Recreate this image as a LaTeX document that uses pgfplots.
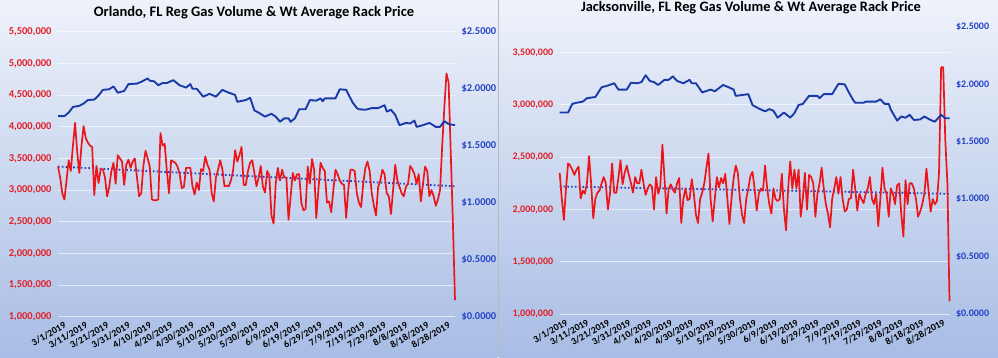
\documentclass[border=0pt]{standalone}
\usepackage{pgfplots}
\pgfplotsset{compat=1.18}
\usepackage{fontspec}
\setmainfont{Carlito}
\definecolor{bgtop}{RGB}{238,242,250}
\definecolor{bgbot}{RGB}{168,189,229}
\definecolor{redline}{RGB}{236,22,26}
\definecolor{redtext}{RGB}{226,30,38}
\definecolor{blueline}{RGB}{26,58,168}
\definecolor{bluetext}{RGB}{36,66,196}
\definecolor{trend}{RGB}{40,62,196}
\pgfplotsset{
  chart/.style={scale only axis, anchor=south west, xmin=0, xmax=186,
    axis line style={draw=none}, major tick style={draw=none}, minor tick style={draw=none},
    clip=false},
  datelabels/.style={xtick={0,10,...,180},
    xticklabels={3/1/2019,3/11/2019,3/21/2019,3/31/2019,4/10/2019,4/20/2019,4/30/2019,5/10/2019,5/20/2019,5/30/2019,6/9/2019,6/19/2019,6/29/2019,7/9/2019,7/19/2019,7/29/2019,8/8/2019,8/18/2019,8/28/2019},
    x tick label style={rotate=30, anchor=north east, font=\bfseries\fontsize{9.7}{11}\selectfont, text=black, inner sep=0.5pt, yshift=-6pt, xshift=3pt}},
  volline/.style={redline, line width=1.7pt, line join=round, no markers},
  priceline/.style={blueline, line width=1.9pt, line join=round, no markers},
  trendline/.style={trend, line width=1.8pt, dash pattern=on 1.6pt off 2.2pt, no markers},
}
\begin{document}
\begin{tikzpicture}[x=1pt,y=1pt]
\path[use as bounding box] (0,0) rectangle (998,357);
\shade[top color=bgtop, bottom color=bgbot] (0,0) rectangle (497.6,357);
\shade[top color=bgtop, bottom color=bgbot] (499,0) rectangle (998,357);
\draw[gray!55, line width=0.8pt] (498.3,0) -- (498.3,357);
\node[font=\bfseries\fontsize{14.5}{16}\selectfont] at (254,344.5) {Orlando, FL Reg Gas Volume \& Wt Average Rack Price};
\node[font=\bfseries\fontsize{14.4}{16}\selectfont] at (751,349.5) {Jacksonville, FL Reg Gas Volume \& Wt Average Rack Price};

% ---------------- Orlando: volume ----------------
\begin{axis}[chart, datelabels, at={(58pt,40.3pt)}, width=397pt, height=285pt,
  ymin=1000, ymax=5500, ytick={1000,1500,...,5500},
  yticklabels={{1,000,000},{1,500,000},{2,000,000},{2,500,000},{3,000,000},{3,500,000},{4,000,000},{4,500,000},{5,000,000},{5,500,000}},
  y tick label style={text=redtext, font=\bfseries\fontsize{10.5}{12}\selectfont, xshift=-3pt},
  ymajorgrids, grid style={white, opacity=0.6, line width=0.8pt}]
\addplot[trendline] coordinates {(0,3370) (186,3060)};
\addplot[volline] coordinates {
(0,3370)(1,3200)(2,2950)(3,2850)(4,3150)(5,3470)(6,3300)(7,3700)(8,4060)(9,3600)
(10,3270)(11,3700)(12,4010)(13,3820)(14,3750)(15,3700)(16,3680)(17,2920)(18,3380)(19,3110)
(20,3330)(21,3330)(22,3200)(23,2900)(24,3050)(25,3300)(26,3430)(27,3100)(28,3550)(29,3500)
(30,3450)(31,3080)(32,3400)(33,3480)(34,3350)(35,3450)(36,3500)(37,3200)(38,2900)(39,2950)
(40,3380)(41,3620)(42,3500)(43,3370)(44,2850)(45,2840)(46,2840)(47,2850)(48,3900)(49,3700)
(50,3730)(51,3300)(52,2950)(53,3470)(54,3450)(55,3430)(56,3370)(57,3250)(58,3030)(59,3050)
(60,3350)(61,3350)(62,3350)(63,3060)(64,2930)(65,3120)(66,3000)(67,3330)(68,3300)(69,3530)
(70,3400)(71,3320)(72,2950)(73,2820)(74,3200)(75,3320)(76,3470)(77,3330)(78,3060)(79,3070)
(80,3060)(81,3150)(82,3300)(83,3630)(84,3450)(85,3550)(86,3680)(87,3080)(88,3080)(89,3300)
(90,3430)(91,3470)(92,3270)(93,3060)(94,3200)(95,3380)(96,3050)(97,2960)(98,3300)(99,3230)
(100,2600)(101,2470)(102,3100)(103,3350)(104,3150)(105,3320)(106,3200)(107,3200)(108,2530)(109,2900)
(110,3270)(111,3150)(112,3250)(113,3250)(114,2800)(115,2680)(116,2700)(117,3370)(118,3100)(119,3490)
(120,3320)(121,2560)(122,3000)(123,3430)(124,3350)(125,3300)(126,2800)(127,2820)(128,2650)(129,3000)
(130,3320)(131,3250)(132,3150)(133,3100)(134,3080)(135,2560)(136,3000)(137,3320)(138,3320)(139,3300)
(140,2950)(141,2800)(142,2730)(143,3100)(144,3350)(145,3450)(146,3300)(147,2950)(148,2750)(149,2600)
(150,3050)(151,3150)(152,3320)(153,3250)(154,2950)(155,2900)(156,2620)(157,3000)(158,3400)(159,3150)
(160,3050)(161,2950)(162,2900)(163,3050)(164,3100)(165,3380)(166,3330)(167,3250)(168,3100)(169,3250)
(170,2820)(171,3100)(172,3370)(173,3300)(174,2900)(175,3000)(176,2900)(177,2750)(178,2850)(179,3000)
(180,3700)(181,4300)(182,4840)(183,4700)(184,3600)(185,2500)(186,1260)};
\end{axis}
% ---------------- Orlando: price ----------------
\begin{axis}[chart, at={(58pt,40.3pt)}, width=397pt, height=285pt,
  axis x line=none, axis y line*=right,
  ymin=0, ymax=2.5, ytick={0,0.5,...,2.5},
  yticklabels={\$0.0000,\$0.5000,\$1.0000,\$1.5000,\$2.0000,\$2.5000},
  y tick label style={text=bluetext, font=\bfseries\fontsize{10.5}{12}\selectfont, xshift=3pt}]
\addplot[priceline] coordinates {
(0,1.76)(3,1.76)(5,1.79)(7,1.84)(10,1.85)(12,1.87)(14,1.90)(17,1.905)(19,1.94)(21,1.99)
(24,1.995)(26,2.02)(28,1.965)(31,1.98)(33,2.04)(37,2.045)(39,2.06)(42,2.09)(43,2.07)(45,2.065)
(47,2.03)(49,2.05)(51,2.05)(54,2.075)(57,2.03)(60,2.01)(62,2.04)(63,2.0)(65,2.0)(68,1.93)
(71,1.955)(74,1.93)(77,1.99)(80,1.965)(83,1.945)(84,1.885)(88,1.90)(90,1.92)(92,1.81)(94,1.79)
(97,1.755)(100,1.78)(102,1.755)(104,1.71)(106,1.74)(108,1.74)(109,1.71)(111,1.74)(113,1.82)(116,1.82)
(118,1.90)(121,1.895)(123,1.915)(124,1.89)(125,1.915)(130,1.915)(132,1.995)(135,1.99)(138,1.88)(140,1.83)
(141,1.82)(144,1.815)(147,1.83)(150,1.83)(153,1.855)(154,1.80)(156,1.815)(158,1.77)(160,1.68)(163,1.70)
(165,1.695)(167,1.72)(168,1.665)(171,1.68)(174,1.70)(177,1.665)(179,1.665)(181,1.715)(183,1.69)(186,1.68)};
\end{axis}

% ---------------- Jacksonville: volume ----------------
\begin{axis}[chart, datelabels, at={(559.7pt,43pt)}, width=389.8pt, height=287pt,
  ymin=1000, ymax=3745, ytick={1000,1500,...,3500},
  yticklabels={{1,000,000},{1,500,000},{2,000,000},{2,500,000},{3,000,000},{3,500,000}},
  y tick label style={text=redtext, font=\bfseries\fontsize{10}{12}\selectfont, xshift=-3pt},
  ymajorgrids, grid style={white, opacity=0.6, line width=0.8pt}]
\addplot[trendline] coordinates {(0,2220) (186,2150)};
\addplot[volline] coordinates {
(0,2350)(1,2100)(2,1900)(3,2200)(4,2440)(5,2420)(6,2380)(7,2330)(8,2380)(9,2410)
(10,2105)(11,2180)(12,2150)(13,2250)(14,2510)(15,2250)(16,1915)(17,2100)(18,2160)(19,2180)
(20,2250)(21,2310)(22,2250)(23,2000)(24,2150)(25,2440)(26,2160)(27,2160)(28,2300)(29,2470)
(30,2240)(31,2350)(32,2420)(33,2330)(34,2250)(35,2160)(36,2310)(37,2250)(38,2250)(39,2380)
(40,2250)(41,2140)(42,2200)(43,2240)(44,2220)(45,2000)(46,2310)(47,2150)(48,2220)(49,2620)
(50,2300)(51,1960)(52,2200)(53,2240)(54,2190)(55,2160)(56,2250)(57,2300)(58,1870)(59,2100)
(60,2200)(61,2090)(62,2100)(63,2290)(64,2150)(65,1950)(66,1870)(67,2100)(68,2160)(69,2250)
(70,2400)(71,2535)(72,2100)(73,1885)(74,2100)(75,2310)(76,2210)(77,2300)(78,2250)(79,2340)
(80,2100)(81,1860)(82,2110)(83,2300)(84,2420)(85,2350)(86,2100)(87,1950)(88,1870)(89,2100)
(90,2200)(91,2320)(92,2360)(93,2200)(94,1990)(95,2150)(96,2200)(97,2180)(98,2420)(99,2200)
(100,2050)(101,1960)(102,2200)(103,2100)(104,2080)(105,2100)(106,2340)(107,2000)(108,1800)(109,2200)
(110,2460)(111,2200)(112,2380)(113,2200)(114,2380)(115,1930)(116,2100)(117,2350)(118,2000)(119,2330)
(120,2310)(121,2250)(122,1930)(123,2150)(124,2250)(125,2400)(126,2200)(127,2050)(128,1960)(129,1830)
(130,2100)(131,2200)(132,2310)(133,2150)(134,2310)(135,2100)(136,1980)(137,2000)(138,2100)(139,2110)
(140,2380)(141,2200)(142,1990)(143,2150)(144,2100)(145,2060)(146,2150)(147,2200)(148,2310)(149,2100)
(150,2050)(151,2150)(152,1840)(153,2100)(154,2400)(155,2200)(156,2150)(157,1930)(158,2200)(159,2150)
(160,2050)(161,2230)(162,2250)(163,1950)(164,1740)(165,2280)(166,2050)(167,2250)(168,2250)(169,2200)
(170,2100)(171,1930)(172,1980)(173,2050)(174,2150)(175,2390)(176,2180)(177,1980)(178,2100)(179,2050)
(180,2080)(181,2350)(182,3360)(183,3360)(184,2660)(185,2250)(186,1120)};
\end{axis}
% ---------------- Jacksonville: price ----------------
\begin{axis}[chart, at={(559.7pt,43pt)}, width=389.8pt, height=287pt,
  axis x line=none, axis y line*=right,
  ymin=0, ymax=2.5, ytick={0,0.5,...,2.5},
  yticklabels={\$0.0000,\$0.5000,\$1.0000,\$1.5000,\$2.0000,\$2.5000},
  y tick label style={text=bluetext, font=\bfseries\fontsize{10}{12}\selectfont, xshift=3pt}]
\addplot[priceline] coordinates {
(0,1.755)(4,1.755)(6,1.83)(8,1.84)(11,1.85)(13,1.88)(17,1.89)(20,1.975)(23,1.99)(26,2.01)
(28,1.955)(32,1.955)(34,2.015)(37,2.01)(39,2.02)(41,2.08)(43,2.03)(45,2.02)(47,1.995)(50,2.04)
(52,2.04)(54,2.07)(56,2.03)(59,2.01)(62,2.04)(63,2.01)(65,2.01)(68,1.93)(72,1.955)(74,1.94)
(78,1.995)(80,1.98)(83,1.955)(84,1.90)(88,1.91)(90,1.915)(92,1.82)(95,1.79)(98,1.765)(100,1.785)
(102,1.77)(104,1.71)(107,1.755)(110,1.71)(112,1.75)(114,1.82)(116,1.83)(119,1.90)(123,1.90)(124,1.88)
(126,1.915)(130,1.915)(133,2.005)(136,2.00)(138,1.93)(140,1.865)(141,1.84)(145,1.84)(146,1.85)(149,1.85)
(151,1.85)(153,1.87)(155,1.83)(157,1.83)(158,1.78)(161,1.685)(163,1.72)(165,1.71)(167,1.735)(169,1.69)
(172,1.695)(174,1.72)(177,1.69)(179,1.675)(182,1.735)(184,1.705)(186,1.705)};
\end{axis}
\end{tikzpicture}
\end{document}
